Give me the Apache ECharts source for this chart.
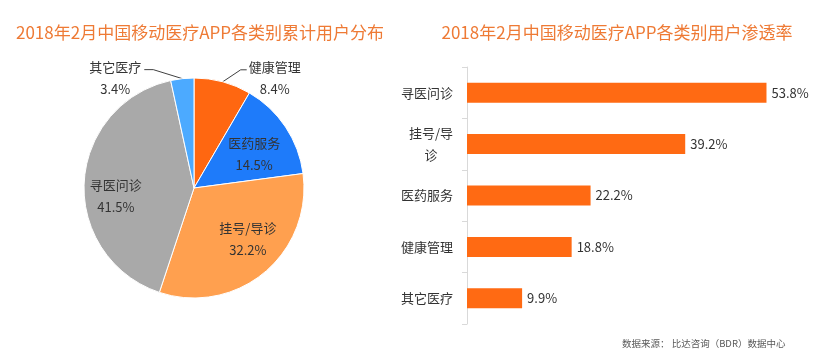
<!DOCTYPE html>
<html><head><meta charset="utf-8">
<script src="https://cdn.jsdelivr.net/npm/echarts@6/dist/echarts.min.js"></script>
<style>html,body{margin:0;padding:0;background:#fff}#c{width:816px;height:351px}</style>
</head><body><div id="c"></div>
<script>
const pieTitle = '2018年2月中国移动医疗APP各类别累计用户分布';
const barTitle = '2018年2月中国移动医疗APP各类别用户渗透率';
const pieNames = ['健康管理', '医药服务', '挂号/导诊', '寻医问诊', '其它医疗'];
const pieValues = [8.4, 14.5, 32.2, 41.5, 3.4];
const pieColors = ['#FF6711', '#1E7BFA', '#FFA04F', '#A9A9A9', '#4CAAFF'];
const barCats = ['寻医问诊', '挂号/导\n诊', '医药服务', '健康管理', '其它医疗'];
const barValues = [53.8, 39.2, 22.2, 18.8, 9.9];
const sourceText = '数据来源： 比达咨询（BDR）数据中心';

const FONT = '"Noto Sans CJK SC", "Microsoft YaHei", sans-serif';
const chart = echarts.init(document.getElementById('c'), null, {renderer: 'canvas'});
// leader-line shape for outside labels (style): first segment offset and horizontal tail
const outsideLines = {
  '健康管理': {seg: [18, -12], tail: 6},
  '其它医疗': {seg: [-29, -9], tail: 9}
};
// small nudges of inside labels (style), in px
const insideNudge = {
  '医药服务': [-5, 9],
  '挂号/导诊': [4, -9],
  '寻医问诊': [0, 12]
};
const PIE_C = [194, 188];
const PIE_R = 110;

function sliceMidAngle(i) {
  const total = pieValues.reduce((a, b) => a + b, 0);
  let before = 0;
  for (let k = 0; k < i; k++) before += pieValues[k];
  return (before + pieValues[i] / 2) / total * Math.PI * 2; // clockwise from top
}

chart.setOption({
  backgroundColor: '#fff',
  textStyle: {fontFamily: FONT},
  title: [
    {text: pieTitle, left: 195, top: 19, textAlign: 'center',
     textStyle: {color: '#EE7A35', fontSize: 17, fontWeight: 'normal', fontFamily: FONT}},
    {text: barTitle, left: 612, top: 19, textAlign: 'center',
     textStyle: {color: '#EE7A35', fontSize: 17, fontWeight: 'normal', fontFamily: FONT}},
    {text: sourceText, left: 617, top: 334,
     textStyle: {color: '#595959', fontSize: 9.5, fontWeight: 'normal', fontFamily: FONT}}
  ],
  grid: {left: 467, top: 67, width: 334, height: 257},
  xAxis: {type: 'value', min: 0, max: 60, show: false},
  yAxis: {
    type: 'category', data: barCats, inverse: true,
    axisLine: {show: true, lineStyle: {color: '#D9D9D9', width: 1}},
    axisTick: {show: true, length: 5, lineStyle: {color: '#D9D9D9'}},
    axisLabel: {
      color: '#333', fontSize: 13, margin: 14, lineHeight: 22, fontFamily: FONT,
      formatter: v => v.indexOf('\n') >= 0 ? v.split('\n').map(s => '{c|' + s + '}').join('\n') : v,
      rich: {c: {width: 44, align: 'center', fontSize: 13, lineHeight: 22, color: '#333', fontFamily: FONT}}
    },
    splitLine: {show: false}
  },
  series: [
    {
      type: 'pie', center: PIE_C, radius: PIE_R, startAngle: 90, clockwise: true,
      avoidLabelOverlap: false,
      data: pieNames.map((n, i) => {
        const out = outsideLines[n];
        return {
          name: n, value: pieValues[i],
          itemStyle: {color: pieColors[i]},
          label: out ? {position: 'outside'} : {position: 'inside'},
          labelLine: out ? {show: true} : {show: false}
        };
      }),
      itemStyle: {borderColor: '#fff', borderWidth: 1},
      label: {
        formatter: p => '{a|' + p.name + '}\n{a|' + p.value.toFixed(1) + '%}',
        rich: {a: {width: 56, align: 'center', color: '#333', fontSize: 13, lineHeight: 22, fontFamily: FONT}},
        color: '#333', fontSize: 13, lineHeight: 22, fontFamily: FONT
      },
      labelLayout: function (params) {
        const i = params.dataIndex;
        const n = pieNames[i];
        const out = outsideLines[n];
        if (out) {
          const a = sliceMidAngle(i);
          const p0 = [PIE_C[0] + PIE_R * Math.sin(a), PIE_C[1] - PIE_R * Math.cos(a)];
          const p1 = [p0[0] + out.seg[0], p0[1] + out.seg[1]];
          const right = out.seg[0] > 0;
          const p2 = [p1[0] + (right ? out.tail : -out.tail), p1[1]];
          return {
            x: p2[0] + (right ? 0 : -1), y: p2[1] + 8,
            align: right ? 'left' : 'right', verticalAlign: 'middle',
            labelLinePoints: [p0, p1, p2]
          };
        }
        const r = params.labelRect;
        const cx = r.x + r.width / 2, cy = r.y + r.height / 2;
        const k = 1.35;
        const nd = insideNudge[n] || [0, 0];
        return {x: PIE_C[0] + (cx - PIE_C[0]) * k + nd[0], y: PIE_C[1] + (cy - PIE_C[1]) * k + nd[1]};
      },
      labelLine: {lineStyle: {color: '#404040', width: 1}},
      emphasis: {disabled: true},
      animation: false
    },
    {
      type: 'bar', data: barValues, barWidth: 20,
      itemStyle: {color: '#FF6A13'},
      label: {show: true, position: 'right', distance: 5, color: '#333', fontSize: 13,
              formatter: p => p.value.toFixed(1) + '%', fontFamily: FONT},
      animation: false
    }
  ]
});
</script></body></html>
